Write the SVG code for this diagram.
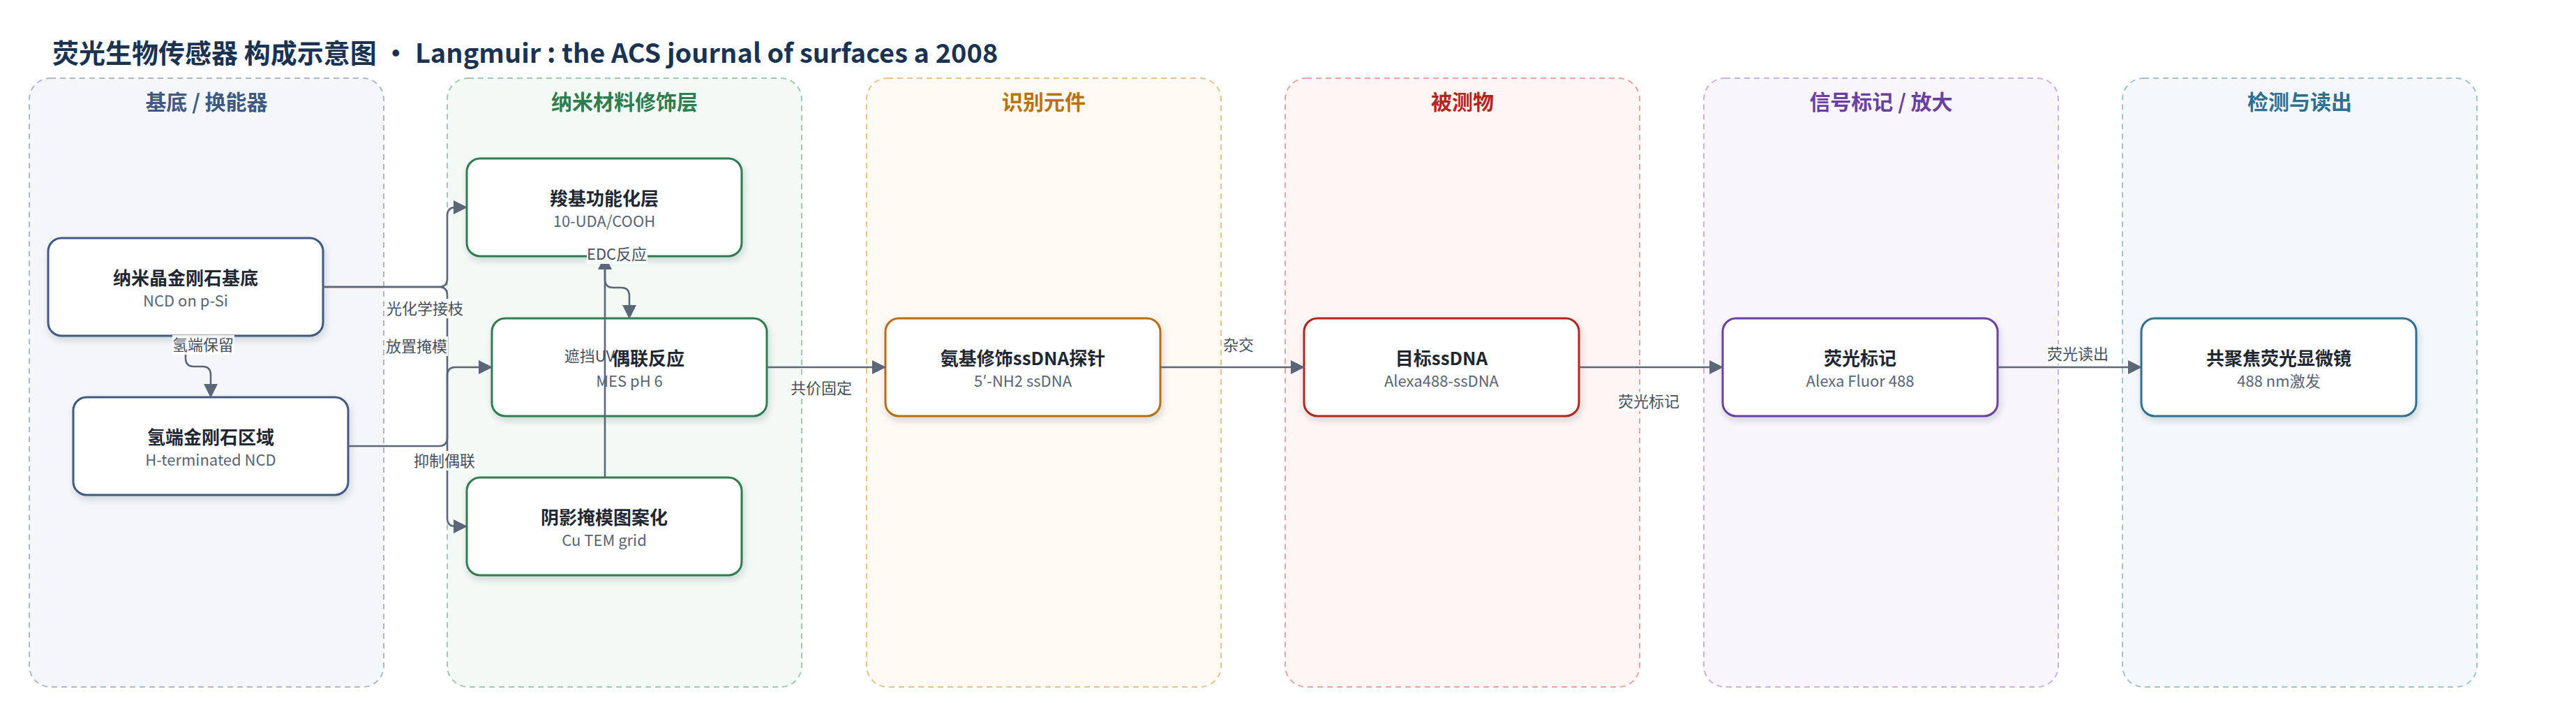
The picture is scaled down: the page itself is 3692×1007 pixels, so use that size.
<svg xmlns="http://www.w3.org/2000/svg" width="3692" height="1007" viewBox="0 0 3692 1007">
<defs>
<style>
text{font-family:"Noto Sans CJK SC","Noto Sans",sans-serif;}
.ttl{font-size:38px;font-weight:700;fill:#1b3352;}
.cl{stroke-width:2;stroke-dasharray:8 6;}
.ct{font-size:30px;font-weight:700;text-anchor:middle;}
.nd{fill:#fff;stroke-width:3;filter:url(#sh);}
.nt{font-size:26px;font-weight:700;fill:#1f2733;text-anchor:middle;}
.ns{font-size:22px;fill:#5b6472;text-anchor:middle;}
.e{fill:none;stroke:#5b6678;stroke-width:2.6;marker-end:url(#ar);}
.lb{font-size:22px;fill:#474f5c;text-anchor:middle;}
.lbg{fill:#fff;opacity:0.92;}
</style>
<filter id="sh" x="-10%" y="-20%" width="120%" height="150%">
<feDropShadow dx="2" dy="5" stdDeviation="5" flood-color="#1f2937" flood-opacity="0.16"/>
</filter>
<marker id="ar" markerUnits="userSpaceOnUse" markerWidth="20" markerHeight="20" refX="19" refY="10" orient="auto">
<path d="M0,0 L20,10 L0,20 z" fill="#5b6678"/>
</marker>
</defs>
<rect width="3692" height="1007" fill="#fff"/>
<text class="ttl" x="75" y="90">荧光生物传感器 构成示意图 • Langmuir : the ACS journal of surfaces a 2008</text>

<g id="clusters">
<g id="c1"><rect class="cl" x="42" y="112" width="508" height="872" rx="30" fill="#f5f6fa" stroke="#aeb8ca"/><text class="ct" x="296" y="157" fill="#3f5a82">基底 / 换能器</text></g>
<g id="c2"><rect class="cl" x="641" y="112" width="508" height="872" rx="30" fill="#f3f9f5" stroke="#9ecbb0"/><text class="ct" x="895" y="157" fill="#2e7d4f">纳米材料修饰层</text></g>
<g id="c3"><rect class="cl" x="1242" y="112" width="508" height="872" rx="30" fill="#fef9f2" stroke="#e6c28e"/><text class="ct" x="1496" y="157" fill="#b8730e">识别元件</text></g>
<g id="c4"><rect class="cl" x="1842" y="112" width="508" height="872" rx="30" fill="#fef5f4" stroke="#e9a3a0"/><text class="ct" x="2096" y="157" fill="#b3261e">被测物</text></g>
<g id="c5"><rect class="cl" x="2442" y="112" width="508" height="872" rx="30" fill="#f8f5fc" stroke="#c8b0e1"/><text class="ct" x="2696" y="157" fill="#6b3fa0">信号标记 / 放大</text></g>
<g id="c6"><rect class="cl" x="3042" y="112" width="508" height="872" rx="30" fill="#f4f8fa" stroke="#a0c2d2"/><text class="ct" x="3296" y="157" fill="#2f6f8f">检测与读出</text></g>
</g>

<g id="nodes">
<g id="nA"><rect class="nd" x="69" y="341" width="394" height="140" rx="19" stroke="#3f5a82"/><text class="nt" x="266" y="408">纳米晶金刚石基底</text><text class="ns" x="266" y="439">NCD on p-Si</text></g>
<g id="nB"><rect class="nd" x="105" y="569" width="394" height="140" rx="19" stroke="#3f5a82"/><text class="nt" x="302" y="636">氢端金刚石区域</text><text class="ns" x="302" y="667">H-terminated NCD</text></g>
<g id="nC"><rect class="nd" x="669" y="227" width="394" height="140" rx="19" stroke="#2e7d4f"/><text class="nt" x="866" y="294">羧基功能化层</text><text class="ns" x="866" y="325">10-UDA/COOH</text></g>
<g id="nD"><rect class="nd" x="705" y="456" width="394" height="140" rx="19" stroke="#2e7d4f"/><text class="nt" x="929" y="523">偶联反应</text><text class="ns" x="902" y="554">MES pH 6</text></g>
<g id="nE"><rect class="nd" x="669" y="684" width="394" height="140" rx="19" stroke="#2e7d4f"/><text class="nt" x="866" y="751">阴影掩模图案化</text><text class="ns" x="866" y="782">Cu TEM grid</text></g>
<g id="nF"><rect class="nd" x="1269" y="456" width="394" height="140" rx="19" stroke="#b86e0a"/><text class="nt" x="1466" y="523">氨基修饰ssDNA探针</text><text class="ns" x="1466" y="554">5′-NH2 ssDNA</text></g>
<g id="nG"><rect class="nd" x="1869" y="456" width="394" height="140" rx="19" stroke="#b3261e"/><text class="nt" x="2066" y="523">目标ssDNA</text><text class="ns" x="2066" y="554">Alexa488-ssDNA</text></g>
<g id="nH"><rect class="nd" x="2469" y="456" width="394" height="140" rx="19" stroke="#6b3fa0"/><text class="nt" x="2666" y="523">荧光标记</text><text class="ns" x="2666" y="554">Alexa Fluor 488</text></g>
<g id="nI"><rect class="nd" x="3069" y="456" width="394" height="140" rx="19" stroke="#2f6f8f"/><text class="nt" x="3266" y="523">共聚焦荧光显微镜</text><text class="ns" x="3266" y="554">488 nm激发</text></g>
</g>

<g id="connectors">
<path class="e" d="M266,481 V513 Q266,525 278,525 H290 Q302,525 302,537 V569"/>
<path class="e" d="M463,411 H629 Q641,411 641,399 V309 Q641,297 653,297 H669"/>
<path class="e" d="M463,411 H629 Q641,411 641,423 V742 Q641,754 653,754 H669"/>
<path class="e" d="M499,639 H629 Q641,639 641,627 V538 Q641,526 653,526 H705"/>
<path class="e" d="M867,684 V367"/>
<path class="e" d="M867,367 V400 Q867,412 879,412 H890 Q902,412 902,424 V456"/>
<path class="e" d="M1099,526 H1269"/>
<path class="e" d="M1663,526 H1869"/>
<path class="e" d="M2263,526 H2469"/>
<path class="e" d="M2863,526 H3069"/>
<g id="labels">
<rect class="lbg" x="247" y="480" width="89" height="28"/><text class="lb" x="291" y="502">氢端保留</text>
<rect class="lbg" x="553" y="428" width="112" height="28"/><text class="lb" x="609" y="450">光化学接枝</text>
<rect class="lbg" x="552" y="482" width="90" height="28"/><text class="lb" x="597" y="504">放置掩模</text>
<rect class="lbg" x="592" y="646" width="90" height="28"/><text class="lb" x="637" y="668">抑制偶联</text>
<text class="lb" x="845" y="518">遮挡UV</text>
<rect class="lbg" x="841" y="350" width="87" height="28"/><text class="lb" x="884" y="372">EDC反应</text>
<rect class="lbg" x="1133" y="542" width="89" height="28"/><text class="lb" x="1177" y="564">共价固定</text>
<rect class="lbg" x="1752" y="480" width="46" height="28"/><text class="lb" x="1775" y="502">杂交</text>
<rect class="lbg" x="2319" y="561" width="89" height="28"/><text class="lb" x="2363" y="583">荧光标记</text>
<rect class="lbg" x="2934" y="493" width="89" height="28"/><text class="lb" x="2978" y="515">荧光读出</text>
</g>
</g>
</svg>
